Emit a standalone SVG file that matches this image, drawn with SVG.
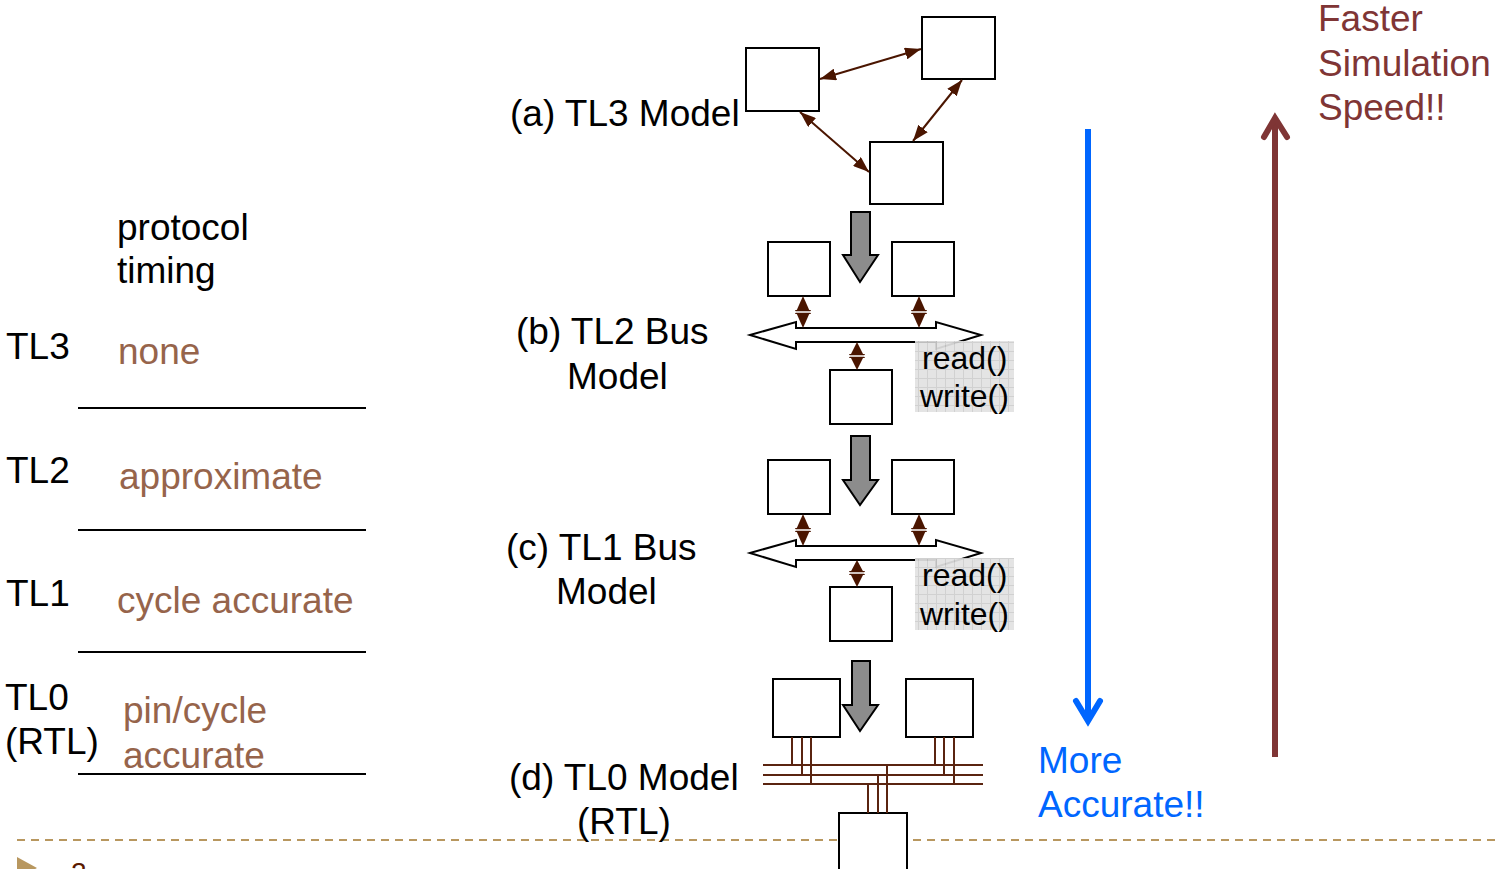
<svg xmlns="http://www.w3.org/2000/svg" width="1500" height="869" viewBox="0 0 1500 869">
<defs>
<style>
text{font-family:"Liberation Sans",Arial,sans-serif;}
.lbl{font-size:37px;fill:#000;}
.lv{font-size:37px;fill:#000;}
.br{font-size:37px;fill:#96644b;}
.box{fill:#fff;stroke:#000;stroke-width:2;}
.sep{stroke:#000;stroke-width:2;}
.link{stroke:#4a1500;stroke-width:2;fill:none;marker-start:url(#ah);marker-end:url(#ah);}
.dh{fill:#4a1500;}
.gray{fill:#8c8c8c;stroke:#000;stroke-width:2;stroke-linejoin:miter;}
.bus{fill:#fff;stroke:#000;stroke-width:2;}
.wire{stroke:#5a2410;stroke-width:2;fill:none;}
.rw{font-size:32px;fill:#000;}
.rwbg{fill:url(#grid);fill-opacity:0.92;}
</style>
<marker id="ah" viewBox="0 0 16 12" refX="16" refY="6" markerWidth="16" markerHeight="12" markerUnits="userSpaceOnUse" orient="auto-start-reverse">
<path d="M0,0 L16,6 L0,12 z" fill="#4a1500"/>
</marker>
<pattern id="grid" width="9" height="9" patternUnits="userSpaceOnUse">
<rect width="9" height="9" fill="#e2e2e2"/>
<path d="M0,0.5 H9 M0.5,0 V9" stroke="#cdcdcd" stroke-width="1"/>
</pattern>
</defs>

<!-- left table -->
<g id="table">
<text class="lv" x="117" y="240">protocol</text>
<text class="lv" x="117" y="283">timing</text>
<text class="lv" x="6" y="359">TL3</text>
<text class="br" x="118" y="364">none</text>
<line class="sep" x1="78" y1="408" x2="366" y2="408"/>
<text class="lv" x="6" y="483">TL2</text>
<text class="br" x="119" y="489">approximate</text>
<line class="sep" x1="78" y1="530" x2="366" y2="530"/>
<text class="lv" x="6" y="606">TL1</text>
<text class="br" x="117" y="613">cycle accurate</text>
<line class="sep" x1="78" y1="652" x2="366" y2="652"/>
<text class="lv" x="5" y="710">TL0</text>
<text class="lv" x="5" y="754">(RTL)</text>
<text class="br" x="123" y="723">pin/cycle</text>
<text class="br" x="123" y="768">accurate</text>
<line class="sep" x1="78" y1="774" x2="366" y2="774"/>
</g>

<!-- footer dashed line -->
<g id="footer">
<line x1="17" y1="840" x2="1495" y2="840" stroke="#b8975f" stroke-width="2" stroke-dasharray="8 6"/>
<polygon points="17,857 37,868 17,879" fill="#b8975f"/>
<text x="71" y="882" font-size="28" fill="#5a1a00">2</text>
</g>

<!-- (a) TL3 -->
<g id="tl3">
<text class="lbl" x="510" y="126">(a) TL3 Model</text>
<rect id="tl3-a" class="box" x="746" y="48" width="73" height="63"/>
<rect id="tl3-b" class="box" x="922" y="17" width="73" height="62"/>
<rect id="tl3-c" class="box" x="870" y="142" width="73" height="62"/>
</g>

<!-- (b) TL2 -->
<g id="tl2">
<text class="lbl" x="516" y="344">(b) TL2 Bus</text>
<text class="lbl" x="567" y="389">Model</text>
<polygon class="gray" points="851,212 870,212 870,255 878,255 860,282 843,255 851,255"/>
<rect id="tl2-l" class="box" x="768" y="242" width="62" height="54"/>
<rect id="tl2-r" class="box" x="892" y="242" width="62" height="54"/>
<polygon class="bus" points="750,335 796,322 796,328 936,328 936,322 981,335 936,349 936,342 796,342 796,349"/>
<rect id="tl2-b" class="box" x="830" y="370" width="62" height="54"/>
<rect class="rwbg" x="915" y="341" width="99" height="71"/>
<text class="rw" x="922" y="369">read()</text>
<text class="rw" x="920" y="407">write()</text>
</g>

<!-- (c) TL1 -->
<g id="tl1">
<text class="lbl" x="506" y="560">(c) TL1 Bus</text>
<text class="lbl" x="556" y="604">Model</text>
<polygon class="gray" points="851,436 870,436 870,480 878,480 860,505 843,480 851,480"/>
<rect id="tl1-l" class="box" x="768" y="460" width="62" height="54"/>
<rect id="tl1-r" class="box" x="892" y="460" width="62" height="54"/>
<polygon class="bus" points="750,553 796,540 796,546 936,546 936,540 981,553 936,567 936,560 796,560 796,567"/>
<rect id="tl1-b" class="box" x="830" y="587" width="62" height="54"/>
<rect class="rwbg" x="915" y="558" width="99" height="72"/>
<text class="rw" x="922" y="586">read()</text>
<text class="rw" x="920" y="625">write()</text>
</g>

<!-- (d) TL0 -->
<g id="tl0">
<text class="lbl" x="509" y="790">(d) TL0 Model</text>
<text class="lbl" x="577" y="834">(RTL)</text>
<polygon class="gray" points="852,661 870,661 870,705 878,705 860,731 843,705 852,705"/>
<rect id="tl0-l" class="box" x="773" y="679" width="67" height="58"/>
<rect id="tl0-r" class="box" x="906" y="679" width="67" height="58"/>
<rect id="tl0-b" class="box" x="839" y="813" width="68" height="70"/>
</g>

<!-- connectors -->
<g id="connectors">
<line class="link" x1="820" y1="79" x2="921" y2="49"/>
<line class="link" x1="962" y1="80" x2="913" y2="141"/>
<line class="link" x1="800" y1="112" x2="869" y2="172"/>
<g class="dh">
<polygon points="803,296 811,314 795,314"/><polygon points="795,310 811,310 803,328"/>
<polygon points="919,296 927,314 911,314"/><polygon points="911,310 927,310 919,328"/>
<polygon points="857,342 865,358 849,358"/><polygon points="849,354 865,354 857,370"/>
<polygon points="803,514 811,532 795,532"/><polygon points="795,528 811,528 803,546"/>
<polygon points="919,514 927,532 911,532"/><polygon points="911,528 927,528 919,546"/>
<polygon points="857,560 865,575 849,575"/><polygon points="849,571 865,571 857,587"/>
</g>
<g stroke="#fff" stroke-width="1.5">
<line x1="795" y1="312" x2="811" y2="312"/><line x1="911" y1="312" x2="927" y2="312"/><line x1="849" y1="356" x2="865" y2="356"/>
<line x1="795" y1="530" x2="811" y2="530"/><line x1="911" y1="530" x2="927" y2="530"/><line x1="849" y1="573" x2="865" y2="573"/>
</g>
<g class="wire">
<line x1="763" y1="765" x2="983" y2="765"/>
<line x1="763" y1="775" x2="983" y2="775"/>
<line x1="763" y1="784" x2="983" y2="784"/>
<line x1="792" y1="737" x2="792" y2="765"/>
<line x1="802" y1="737" x2="802" y2="775"/>
<line x1="811" y1="737" x2="811" y2="784"/>
<line x1="935" y1="737" x2="935" y2="765"/>
<line x1="944" y1="737" x2="944" y2="775"/>
<line x1="954" y1="737" x2="954" y2="784"/>
<line x1="868" y1="784" x2="868" y2="813"/>
<line x1="878" y1="775" x2="878" y2="813"/>
<line x1="887" y1="765" x2="887" y2="813"/>
</g>
</g>

<!-- accuracy arrow -->
<g id="accuracy">
<line x1="1088" y1="129" x2="1088" y2="721" stroke="#0066ff" stroke-width="6"/>
<polyline points="1076,701 1088,721 1100,701" fill="none" stroke="#0066ff" stroke-width="6" stroke-linecap="round" stroke-linejoin="miter"/>
<text x="1038" y="773" font-size="37" fill="#0066ff">More</text>
<text x="1038" y="817" font-size="37" fill="#0066ff">Accurate!!</text>
</g>

<!-- speed arrow -->
<g id="speed">
<line x1="1275" y1="757" x2="1275" y2="118" stroke="#7f3535" stroke-width="6"/>
<polyline points="1264,137 1275,118 1287,137" fill="none" stroke="#7f3535" stroke-width="6" stroke-linecap="round"/>
<text x="1318" y="31" font-size="37" fill="#7f3535">Faster</text>
<text x="1318" y="76" font-size="37" fill="#7f3535">Simulation</text>
<text x="1318" y="120" font-size="37" fill="#7f3535">Speed!!</text>
</g>
</svg>
